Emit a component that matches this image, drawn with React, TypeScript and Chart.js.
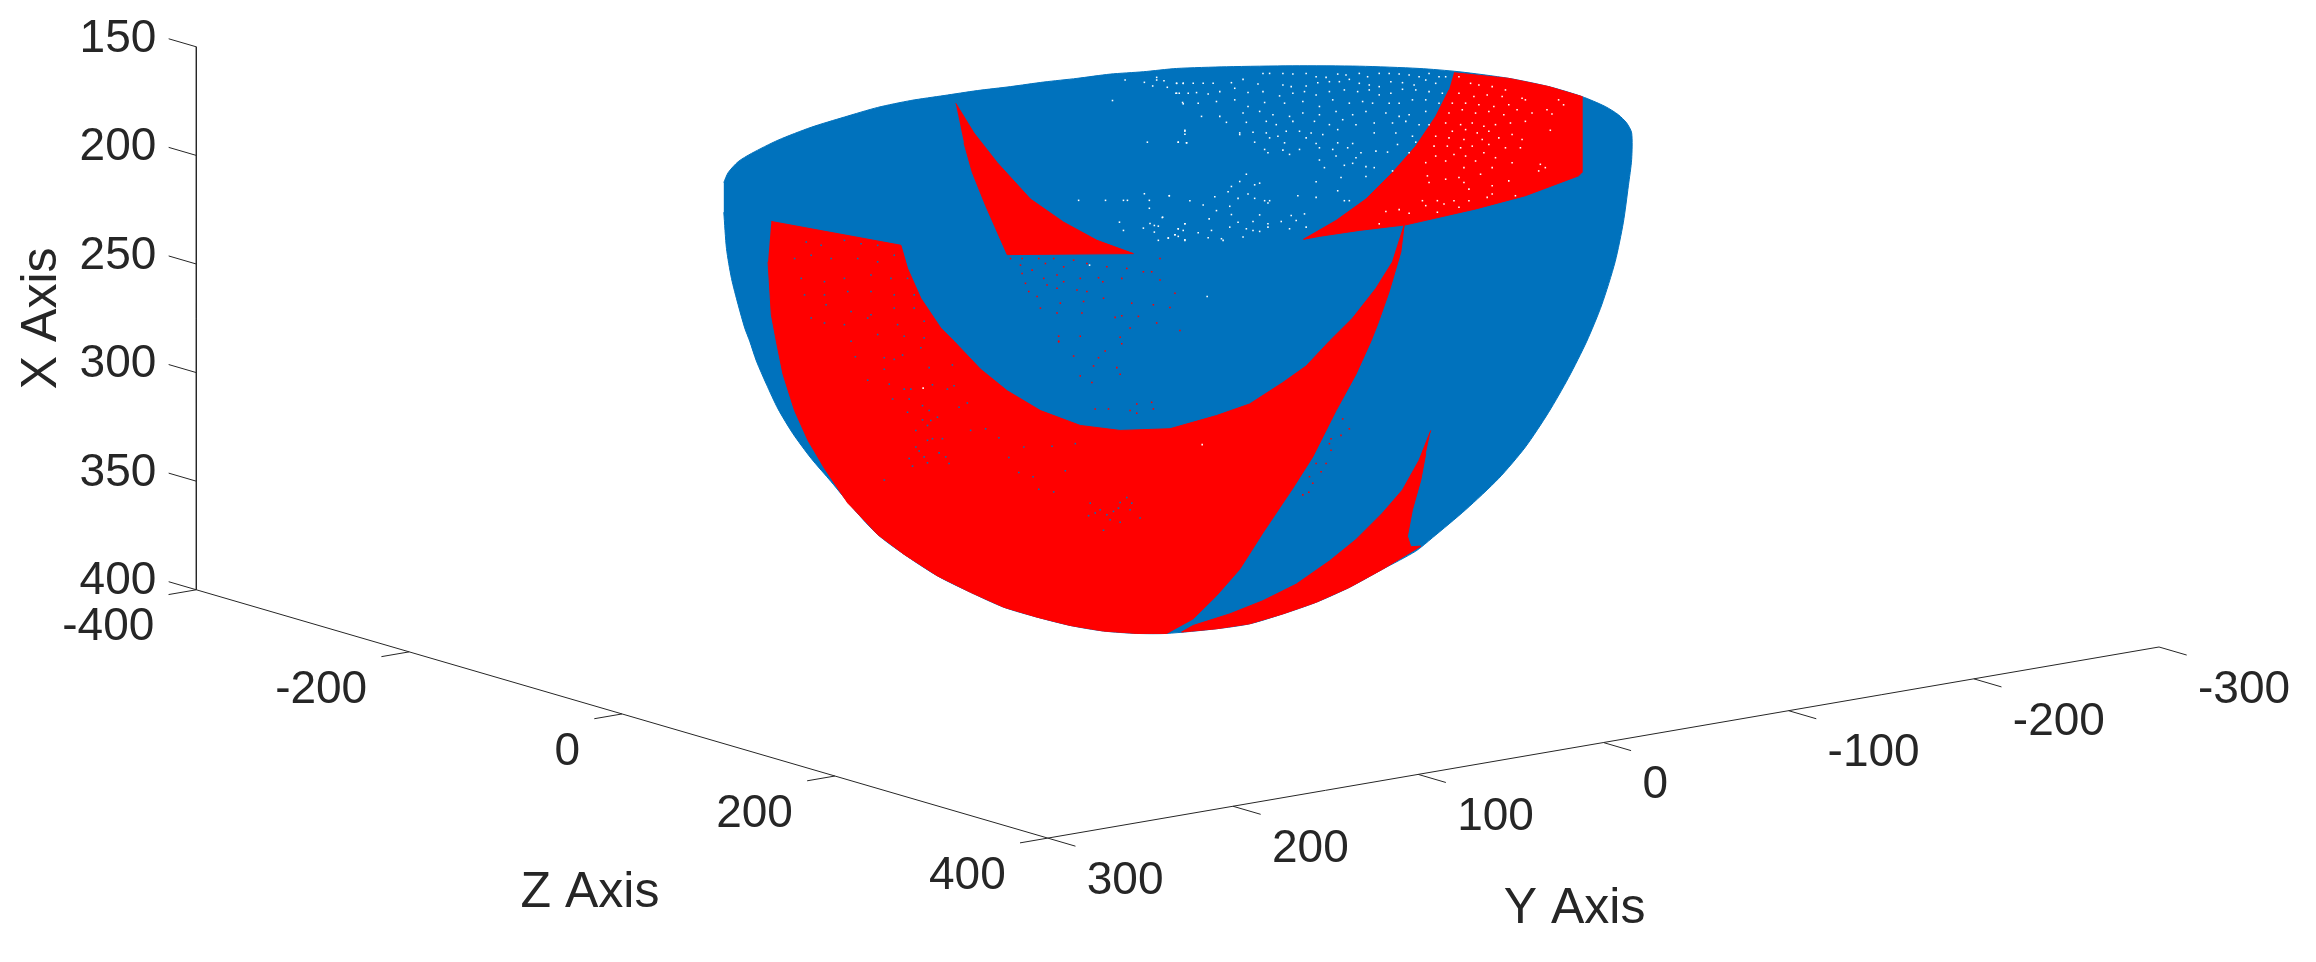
import React, { useEffect, useRef } from "react";
import { Chart, registerables } from "chart.js";

Chart.register(...registerables);

const WIDTH = 2316;
const HEIGHT = 962;
const BLUE = "#0072BD";
const RED = "#FF0000";
const INK = "#262626";

// Axis values (MATLAB 3-D box: x is vertical, reversed)
const xTicks = [150, 200, 250, 300, 350, 400];
const yTicks = [300, 200, 100, 0, -100, -200, -300];
const zTicks = [-400, -200, 0, 200, 400];

// Orthographic view
const project = (x: number, y: number, z: number) => ({
  x: 193 + (z + 400) * 1.068 + (300 - y) * 1.8585,
  y: 590.7 - (400 - x) * 2.19 + (z + 400) * 0.313 - (300 - y) * 0.3212,
});

// Silhouette of the hemisphere and its coloured regions
const hemisphere = [
  [722.3, 180], [726.7, 170], [736.7, 159], [750, 150.7], [776.7, 137.3], [810, 124.3], [843.3, 114], [876.7, 104.3],
  [910, 97.3], [943.3, 92.3], [976.7, 87.3], [1010, 83.3], [1043.3, 78.7], [1076.7, 75], [1110, 70.7], [1143.3, 68.3],
  [1176.7, 65], [1226.7, 63.3], [1293.3, 62.3], [1360, 62.7], [1420, 65], [1460, 68.3], [1510, 75], [1550, 83.3],
  [1583.3, 93.3], [1606.7, 103.3], [1620, 111.7], [1628.3, 120], [1633.3, 130], [1633.3, 156.7], [1630, 183.3],
  [1625, 220], [1616.7, 260], [1603.3, 303.3], [1588.3, 340], [1570, 376.7], [1550, 411.7], [1526.7, 446.7],
  [1500, 478.3], [1466.7, 510], [1433.3, 538.3], [1416.7, 551.7], [1383.3, 570], [1350, 588.3], [1316.7, 603.3],
  [1283.3, 615], [1250, 625], [1216.7, 630], [1166.7, 634.7], [1136.7, 634.7], [1103.3, 632.3], [1070, 626.7],
  [1036.7, 618.3], [1003.3, 608.3], [970, 593.3], [936.7, 576.7], [903.3, 555], [876.7, 535], [853.3, 510],
  [830, 481.7], [810, 458.3], [791.7, 433.3], [776.7, 408.3], [765, 383.3], [755, 360], [748.3, 340], [743.3, 326.7],
  [736.7, 303.3], [730, 276.7], [725, 246.7], [722.3, 210],
];
const redMain = [
  [770, 219.3], [900, 243.3], [906.7, 266.7], [920, 296.7], [940, 326.7], [953.3, 340], [980, 368.3], [1006.7, 390],
  [1040, 410], [1080, 425], [1120, 430], [1170, 428.3], [1216.7, 415], [1250, 403.3], [1283.3, 381.7], [1306.7, 365],
  [1330, 340], [1353.3, 316.7], [1376.7, 286.7], [1393.3, 260], [1405, 223], [1401.7, 250], [1390, 290], [1378.3, 323.3],
  [1371.7, 340], [1356.7, 373.3], [1336.7, 410], [1313.3, 456.7], [1293.3, 488.3], [1263.3, 533.3], [1240, 570],
  [1216.7, 596.7], [1193.3, 620], [1166.7, 634.7], [1136.7, 634.7], [1103.3, 632.3], [1070, 626.7], [1036.7, 618.3],
  [1003.3, 608.3], [970, 593.3], [936.7, 576.7], [903.3, 555], [876.7, 535], [853.3, 510], [846.7, 503.3], [823.3, 468.3],
  [806.7, 440], [793.3, 410], [781.7, 373.3], [775, 340], [770, 313.3], [766.7, 260],
];
const redCrescent = [
  [1431.7, 430], [1420, 460], [1403.3, 490], [1383.3, 513.3], [1356.7, 540], [1330, 561.7], [1296.7, 585], [1263.3, 601.7],
  [1230, 615], [1193.3, 626.7], [1181.7, 633.3], [1216.7, 630], [1250, 625], [1283.3, 615], [1316.7, 603.3], [1350, 588.3],
  [1383.3, 570], [1421.7, 546.7], [1411.7, 547.3], [1408.3, 536.7], [1413.3, 510], [1421.7, 480], [1426.7, 453.3],
];
const redUpperLeft = [
  [955, 100], [973.3, 130], [996.7, 160], [1030, 196.7], [1063.3, 220], [1096.7, 238.3], [1133.3, 251.7], [1006.7, 252.7],
  [996.7, 230], [985, 203.3], [971.7, 170], [963.3, 140],
];
const redUpperRight = [
  [1455, 69.3], [1510, 75], [1550, 83.3], [1583.3, 93.3], [1583.3, 170], [1580, 173.3], [1526.7, 193.3], [1476.7, 206.7],
  [1406.7, 222.7], [1360, 228.3], [1320, 234.3], [1304, 237.3], [1336.7, 218.3], [1366.7, 196.7], [1393.3, 170],
  [1416.7, 143.3], [1436.7, 113.3], [1450, 86.7],
];

const crop = (ox: number, oy: number) => ([a, b]: number[]) => ({ x: ox + a / 3, y: oy + b / 3 });
const cropA = crop(710, 60);
const cropB = crop(1160, 50);
const cropC = crop(720, 340);
const cropD = crop(1150, 340);

const whiteB = [
  [310,60],[330,60],[370,60],[400,62],[440,60],[470,70],[500,72],[535,62],[560,65],[600,60],[625,70],[660,60],[690,60],[720,62],[750,65],[780,70],[810,60],[840,70],[860,70],
  [50,90],[70,90],[100,90],[130,90],[160,90],[215,88],[250,78],[295,92],[370,95],[395,100],[440,98],[475,88],[510,85],[540,85],[570,78],[600,90],[630,95],[660,100],[695,85],[730,88],[765,95],[800,80],[830,90],
  [50,120],[85,120],[110,118],[145,122],[180,115],[225,105],[265,118],[310,115],[360,128],[400,120],[435,115],[470,125],[510,115],[555,110],[595,115],[630,110],[660,125],[695,120],[730,108],[770,110],[810,115],[850,120],
  [70,152],[115,150],[170,145],[225,140],[265,160],[315,148],[375,150],[430,145],[480,160],[520,140],[570,150],[610,145],[640,150],[690,150],[720,150],[760,140],[800,140],[840,150],
  [125,190],[180,190],[250,180],[300,175],[340,185],[390,190],[430,180],[480,185],[530,175],[580,185],[620,175],[680,180],[720,190],[750,185],[800,175],
  [200,208],[260,208],[320,205],[350,215],[400,205],[465,205],[510,215],[550,200],[590,215],[645,210],[700,210],[740,205],[780,215],[810,215],
  [75,235],[240,240],[280,238],[320,240],[355,250],[380,235],[420,235],[455,240],[490,245],[535,230],[645,240],[710,240],[760,250],
  [55,268],[80,270],[240,245],[285,268],[330,255],[375,270],[440,255],[470,272],[535,270],[580,272],[715,275],[770,268],
  [315,290],[325,300],[370,292],[390,305],[420,290],[480,285],[520,290],[565,285],[605,300],[650,295],[685,298],[750,300],
  [480,322],[530,310],[590,315],[495,345],[555,338],[580,332],[620,342],[645,345],[700,355],
  [260,365],[240,387],[300,392],[285,397],[215,402],[205,418],[28,430],[90,445],[165,433],[235,438],[265,425],[285,438],[315,445],[330,445],[415,430],[470,435],[470,388],[545,375],[620,372],[535,415],[555,445],[570,445],
  [130,458],[210,462],[325,452],[170,475],[215,487],[300,488],[395,490],[435,485],[8,495],[148,500],[235,510],[280,508],[365,508],[410,505],[325,515],[75,515],[55,530],[155,535],[210,525],[260,530],[280,535],[300,538],[325,525],[390,530],[440,525],[45,548],[70,535],[115,542],[145,557],[185,560],[250,555],[25,558],[75,565],[190,565],[142,735],
  [900,70],[935,90],[960,95],[1000,100],[1040,110],[900,120],[945,130],[985,125],[1030,130],[1090,135],[880,150],[920,150],[960,155],[1005,160],[1050,155],[1100,140],[1200,140],[1215,155],
  [870,180],[910,170],[950,180],[990,175],[1035,185],[1075,170],[1120,180],[1165,170],[1180,183],[860,210],[905,215],[940,210],[975,220],[1010,215],[1055,210],[1100,205],[880,235],[920,230],[955,240],[990,235],[1060,245],[1175,232],
  [830,250],[870,255],[915,260],[970,260],[1020,255],[1090,260],[825,280],[865,280],[905,285],[940,280],[990,275],[1040,285],[1085,285],[830,310],[885,305],[920,310],[975,300],[1010,315],[1060,330],[800,330],[860,325],[915,345],[950,325],[1000,345],[1145,335],[1160,345],[1140,355],
  [805,370],[860,380],[900,375],[965,365],[1050,385],[810,390],[915,390],[1000,400],[930,410],[790,445],[835,445],[885,445],[930,445],[1000,425],[1070,430],[800,460],[855,455],[900,465],[985,435],[720,472],[750,483],[835,480],[680,478],[660,515],
];
const whiteA = [
  [1245,50],[1303,57],[1340,42],[1340,50],[1362,52],[1400,60],[1420,60],[1328,68],[1372,72],[1398,90],[1408,90],[1207,112],[1418,118],[1425,202],[1425,214],[1312,238],[1405,238],[1430,240],
  [1105,414],[1186,414],[1240,414],[1252,414],[1303,394],[1318,414],[1378,400],[1318,438],[1357,466],[1228,480],[1320,484],[1333,490],[1345,492],[1425,485],[1300,498],[1240,505],[1333,510],[1405,500],[1395,518],[1405,523],[1345,535],[1375,528],[1425,533],[1138,610],
];
const whiteC = [[607,142],[1447,313]];
const blueA = [
  [285,540],[330,550],[400,535],[450,545],[500,550],[250,590],[300,580],[360,590],[440,590],[500,600],[550,580],[270,650],[340,660],[400,650],[480,640],[540,650],[590,650],[280,700],[340,700],[410,690],[480,690],[550,700],[610,700],[345,730],[420,750],[480,760],[550,740],[610,740],[300,770],[400,790],[470,770],[560,790],[640,780],[340,785],[500,820],[580,825],[640,830],[420,840],[630,860],
];
const blueC = [
  [403,47],[490,50],[520,55],[545,42],[490,85],[625,80],[695,72],[440,118],[505,130],[550,145],[570,145],[635,132],[680,145],[700,135],[515,175],[565,175],[740,187],[605,195],[715,200],[560,215],[625,210],[650,230],[605,238],[630,240],[620,255],[585,270],[750,270],[795,265],[620,300],[635,295],[665,295],[585,320],[595,332],[610,350],[655,338],[675,350],[565,355],[575,378],[620,368],[685,370],[835,292],[910,320],[995,318],[1065,310],[865,352],[895,397],[938,410],[1035,392],[490,420],[955,448],[1000,456],[1110,490],[1140,510],[1125,520],[1200,488],[1220,473],[1180,515],[1195,505],[1235,490],[1230,510],[1105,528],[1160,525],[1170,540],[1200,548],[1260,535],[1150,572],
];
const redA = [
  [900,590],[935,590],[985,590],[1030,590],[1090,595],[930,610],[965,625],[1005,605],[1060,615],[1130,605],[1190,615],[935,635],[1000,650],[1040,640],[1110,650],[1165,648],[1235,650],[945,665],[1010,670],[1060,660],[1178,660],[1250,620],[1350,590],[1325,630],[955,690],[980,705],[1040,680],[1100,685],[1130,690],[1300,630],[1350,655],[1395,695],[990,740],[1050,725],[1120,720],[1180,710],[1265,725],[1330,730],[1380,738],[1040,755],[1115,755],[1215,768],[1235,763],[1285,765],[1340,785],[1045,825],[1110,825],[1230,828],[1045,840],[1410,808],[1260,800],
];
const redC = [
  [1060,45],[1135,50],[1155,30],[1120,75],[1190,80],[1080,105],[1115,125],[1200,100],[1125,205],[1165,205],[1250,190],[1295,185],[1230,210],[1250,218],[1300,205],[1015,2],[1205,8],
];
const redD = [
  [580,235],[600,265],[575,285],[545,295],[540,310],[545,330],[530,370],[515,395],[500,370],[490,430],[480,410],[460,465],[478,457],
];

const toPoints = (pts: number[][]) => pts.map(([x, y]) => ({ x, y }));

const region = (label: string, pts: number[][], color: string, tension = 0) => ({
  label,
  data: toPoints(pts),
  showLine: true,
  fill: "shape",
  backgroundColor: color,
  borderColor: color,
  borderWidth: 1,
  pointRadius: 0,
  tension,
});

const speckle = (label: string, data: { x: number; y: number }[], color: string) => ({
  label,
  data,
  showLine: false,
  pointStyle: "rect",
  pointRadius: 1.1,
  pointBorderWidth: 0,
  pointBackgroundColor: color,
  backgroundColor: color,
  borderWidth: 0,
});

const rule = (label: string, a: { x: number; y: number }, b: { x: number; y: number }) => ({
  label,
  data: [a, b],
  showLine: true,
  fill: false,
  borderColor: INK,
  borderWidth: 1,
  pointRadius: 0,
  tension: 0,
});

const axisRules = [
  rule("x axis", project(150, 300, -400), project(400, 300, -400)),
  rule("z axis", project(400, 300, -400), project(400, 300, 400)),
  rule("y axis", project(400, 300, 400), project(400, -300, 400)),
  ...xTicks.map((t) => rule(`x ${t}`, project(t, 300, -400), project(t, 300, -426))),
  ...yTicks.map((t) => rule(`y ${t}`, project(400, t, 400), project(400, t, 426))),
  ...zTicks.map((t) => rule(`z ${t}`, project(400, 300, t), project(400, 315, t))),
];

const textPlugin = {
  id: "axisText",
  afterDatasetsDraw(chart: any) {
    const { ctx, scales } = chart;
    const px = (p: { x: number; y: number }) => ({ x: scales.x.getPixelForValue(p.x), y: scales.y.getPixelForValue(p.y) });
    ctx.save();
    ctx.fillStyle = INK;
    ctx.textBaseline = "middle";
    ctx.font = '46px "Liberation Sans", Arial, sans-serif';
    ctx.textAlign = "right";
    xTicks.forEach((t) => {
      const p = px(project(t, 300, -400));
      ctx.fillText(String(t), p.x - 40, p.y - 8);
    });
    zTicks.forEach((t) => {
      const p = px(project(400, 300, t));
      ctx.fillText(String(t), p.x - 42, p.y + 38);
    });
    ctx.textAlign = "left";
    yTicks.forEach((t) => {
      const p = px(project(400, t, 400));
      ctx.fillText(String(t), p.x + 39, p.y + 43);
    });
    ctx.font = '50px "Liberation Sans", Arial, sans-serif';
    ctx.textAlign = "center";
    const z = px({ x: 588, y: 897 });
    ctx.fillText("Z Axis", z.x, z.y);
    const y = px({ x: 1576, y: 913 });
    ctx.fillText("Y Axis", y.x, y.y);
    const x = px({ x: 38, y: 317 });
    ctx.translate(x.x, x.y);
    ctx.rotate(-Math.PI / 2);
    ctx.fillText("X Axis", 0, 0);
    ctx.restore();
  },
};

export default function App() {
  const ref = useRef<HTMLCanvasElement | null>(null);
  useEffect(() => {
    const canvas = ref.current;
    if (!canvas) return;
    const chart = new Chart(canvas, {
      type: "scatter",
      data: {
        datasets: [
          ...axisRules,
          speckle("white", [...whiteA.map(cropA), ...whiteB.map(cropB), ...whiteC.map(cropC)], "#FFFFFF"),
          speckle("blue in red", [...blueA.map(cropA), ...blueC.map(cropC)], BLUE),
          speckle("red in blue", [...redA.map(cropA), ...redC.map(cropC), ...redD.map(cropD)], RED),
          region("red upper right", redUpperRight, RED),
          region("red upper left", redUpperLeft, RED),
          region("red crescent", redCrescent, RED),
          region("red main", redMain, RED),
          region("hemisphere", hemisphere, BLUE, 0.25),
        ] as any,
      },
      options: {
        animation: false,
        responsive: false,
        events: [],
        layout: { padding: 0 },
        plugins: { legend: { display: false }, tooltip: { enabled: false }, title: { display: false } },
        scales: {
          x: { type: "linear", display: false, min: 0, max: WIDTH },
          y: { type: "linear", display: false, min: 0, max: HEIGHT, reverse: true },
        },
      },
      plugins: [textPlugin],
    });
    return () => chart.destroy();
  }, []);
  return (
    <div style={{ position: "fixed", left: 0, top: 0, width: WIDTH, height: HEIGHT, background: "#fff" }}>
      <canvas ref={ref} width={WIDTH} height={HEIGHT} style={{ display: "block" }} />
    </div>
  );
}
